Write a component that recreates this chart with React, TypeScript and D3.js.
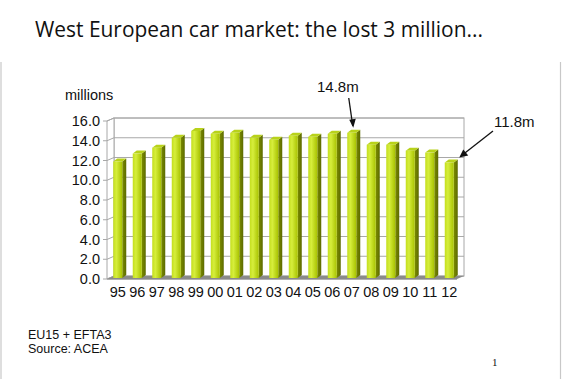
import React from "react";
import * as d3 from "d3";

const years = ["95","96","97","98","99","00","01","02","03","04","05","06","07","08","09","10","11","12"];
const sales = [11.9,12.7,13.3,14.3,15.0,14.7,14.8,14.3,14.1,14.5,14.4,14.7,14.8,13.6,13.6,13.0,12.8,11.8];
const yTicks = [0,2,4,6,8,10,12,14,16];
const title = "West European car market: the lost 3 million...";
const footnotes = ["EU15 + EFTA3", "Source: ACEA"];
const callouts = [{ label: "14.8m", year: "07" }, { label: "11.8m", year: "12" }];

export default function App() {
  const W = 562, H = 379;
  const x = d3.scaleBand<string>().domain(years).range([108, 459]);
  const y = d3.scaleLinear().domain([0, 16]).range([279, 121]);
  const dx = 7, dy = -3; // wall depth
  const bdx = 4, bdy = -3; // bar depth
  const bw = 9;
  const left = 107, right = 457;
  const font = "'Liberation Sans', Arial, sans-serif";
  const gridColor = "#a8a8a8";

  const c07 = x("07")! + x.bandwidth() / 2;
  const c12 = x("12")! + x.bandwidth() / 2;
  const v07 = sales[years.indexOf("07")];
  const v12 = sales[years.indexOf("12")];

  return (
    <svg width={W} height={H} style={{ position: "absolute", left: 0, top: 0, background: "#fff" }}>
      <defs>
        <linearGradient id="front" x1="0" x2="1" y1="0" y2="0">
          <stop offset="0" stopColor="#c4de1e" />
          <stop offset="0.35" stopColor="#d6ee3c" />
          <stop offset="1" stopColor="#a8c200" />
        </linearGradient>
        <linearGradient id="side" x1="0" x2="1" y1="0" y2="0">
          <stop offset="0" stopColor="#7c8c00" />
          <stop offset="1" stopColor="#5c6a00" />
        </linearGradient>
      </defs>
      {/* slide frame */}
      <line x1={1} x2={1} y1={62} y2={H} stroke="#c8c8c8" strokeWidth={1.2} />
      <line x1={560.5} x2={560.5} y1={62} y2={H} stroke="#c8c8c8" strokeWidth={1.2} />
      {/* title */}
      <text x={35} y={37} fontFamily="'Open Sans', sans-serif" fontSize={21} fill="#111" textLength={448} lengthAdjust="spacingAndGlyphs">{title}</text>

      {/* walls */}
      <rect x={left + dx} y={y(16) + dy} width={right - left} height={y(0) - y(16)} fill="#fff" stroke={gridColor} strokeWidth={1} />
      <polygon points={`${left},${y(16)} ${left + dx},${y(16) + dy} ${left + dx},${y(0) + dy} ${left},${y(0)}`} fill="#fff" stroke={gridColor} strokeWidth={1} />
      {yTicks.map(t => (
        <g key={t}>
          <line x1={left + dx} x2={right + dx} y1={y(t) + dy} y2={y(t) + dy} stroke={gridColor} strokeWidth={1} />
          <line x1={left} x2={left + dx} y1={y(t)} y2={y(t) + dy} stroke={gridColor} strokeWidth={1} />
          <line x1={left - 4} x2={left} y1={y(t)} y2={y(t)} stroke={gridColor} strokeWidth={1} />
          <text x={100} y={y(t) + 5} textAnchor="end" fontFamily={font} fontSize={14.5} fill="#111">{t.toFixed(1)}</text>
        </g>
      ))}
      {/* floor */}
      <polygon points={`${left},${y(0)} ${left + dx},${y(0) + dy} ${right + dx},${y(0) + dy} ${right},${y(0)}`} fill="#8a8a8a" />
      <line x1={left} x2={right} y1={y(0) + 0.5} y2={y(0) + 0.5} stroke="#b0b0b0" strokeWidth={1} />

      {/* bars */}
      {years.map((yr, i) => {
        const cx = x(yr)! + x.bandwidth() / 2;
        const xl = cx - bw / 2, xr = cx + bw / 2;
        const top = y(sales[i]);
        const bot = y(0) - 1;
        return (
          <g key={yr}>
            <polygon points={`${xr},${top} ${xr + bdx},${top + bdy} ${xr + bdx},${bot + bdy} ${xr},${bot}`} fill="url(#side)" />
            <polygon points={`${xl},${top} ${xl + bdx},${top + bdy} ${xr + bdx},${top + bdy} ${xr},${top}`} fill="#b8d21a" />
            <rect x={xl} y={top} width={bw} height={bot - top} fill="url(#front)" />
            <text x={cx} y={297} textAnchor="middle" fontFamily={font} fontSize={14.5} fill="#111">{yr}</text>
          </g>
        );
      })}

      {/* axis title */}
      <text x={65} y={100} fontFamily={font} fontSize={14.5} fill="#111">millions</text>

      {/* callouts */}
      <text x={317} y={92} fontFamily={font} fontSize={15} fill="#111">{callouts[0].label}</text>
      <line x1={c07 - 3} x2={c07 + 1} y1={98} y2={y(v07) - 7} stroke="#111" strokeWidth={1.3} />
      <polygon points={`${c07 + 1.5},${y(v07) - 5} ${c07 - 2.5},${y(v07) - 13} ${c07 + 4},${y(v07) - 14}`} fill="#111" />
      <text x={494} y={127} fontFamily={font} fontSize={15} fill="#111">{callouts[1].label}</text>
      <line x1={493} x2={c12 + 15} y1={131} y2={y(v12) - 9} stroke="#111" strokeWidth={1.3} />
      <polygon points={`${c12 + 10},${y(v12) - 5} ${c12 + 14},${y(v12) - 13} ${c12 + 19},${y(v12) - 7}`} fill="#111" />

      {/* footnotes */}
      {footnotes.map((f, i) => (
        <text key={f} x={28} y={339 + i * 14} fontFamily={font} fontSize={12.5} fill="#111">{f}</text>
      ))}
      <text x={492} y={366} fontFamily="'Liberation Serif', serif" fontSize={11} fill="#111">1</text>
    </svg>
  );
}
